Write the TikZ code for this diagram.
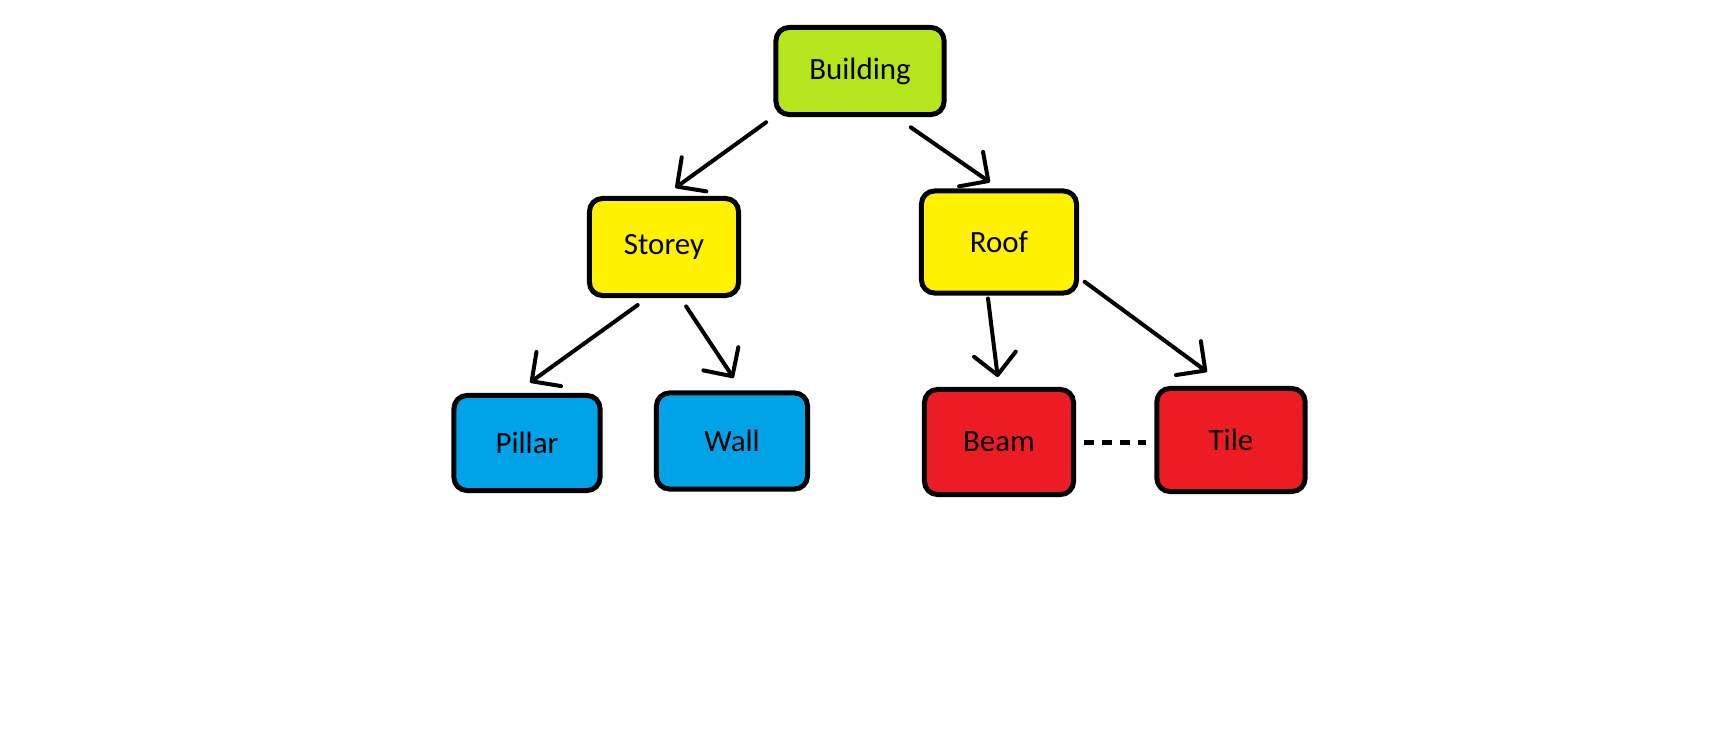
\documentclass[tikz,border=0pt]{standalone}
\usepackage{fontspec}
\setmainfont{Carlito}
\usetikzlibrary{arrows.meta,positioning}

\definecolor{paintlime}{RGB}{181,230,29}
\definecolor{paintyellow}{RGB}{255,242,0}
\definecolor{paintblue}{RGB}{0,162,232}
\definecolor{paintred}{RGB}{237,28,36}

\begin{document}
\begin{tikzpicture}[x=0.01cm,y=-0.01cm,->,>={Straight Barb[length=2.1mm,width=4.2mm,round]},
    line width=0.4mm,line cap=round,
    base node/.style={draw,rectangle,rounded corners=1.3mm,line width=0.5mm,inner sep=0pt,
      font=\fontsize{8.8}{10}\selectfont},
    build node/.style={base node,fill=paintlime},
    level node/.style={base node,fill=paintyellow},
    piece node/.style={base node,fill=paintblue},
    cover node/.style={base node,fill=paintred}]

\useasboundingbox (0,0) rectangle (1732,742);

\node[build node,minimum width=1.68cm,minimum height=0.87cm] (building) at (860,71)  {Building};
\node[level node,minimum width=1.49cm,minimum height=0.97cm] (storey)   at (664,247) {Storey};
\node[level node,minimum width=1.55cm,minimum height=1.02cm] (roof)     at (999,242) {Roof};
\node[piece node,minimum width=1.46cm,minimum height=0.95cm] (pillar)   at (527,443) {Pillar};
\node[piece node,minimum width=1.51cm,minimum height=0.96cm] (wall)     at (732,441) {Wall};
\node[cover node,minimum width=1.49cm,minimum height=1.05cm] (beam)     at (999,442) {Beam};
\node[cover node,minimum width=1.48cm,minimum height=1.03cm] (tile)     at (1231,440) {Tile};

\draw[shorten <=0.9mm,shorten >=1.4mm] (building.south west) -- (storey.north);
\draw[shorten <=1.8mm,shorten >=1.1mm] (building.-52) -- (roof.north);
\draw[shorten <=1.2mm,shorten >=1.8mm] (storey.-108) -- (pillar.103);
\draw[shorten <=1.0mm,shorten >=1.5mm] (storey.-72) -- (wall.79);
\draw[shorten <=0.3mm,shorten >=1.0mm] (roof.-102) -- (beam.north);
\draw[shorten <=0.7mm,shorten >=2.4mm] (roof.-24.6) -- (tile.95);
\draw[-,line cap=butt,line width=0.5mm,dash pattern=on 1mm off 0.8mm,
      shorten <=0.8mm,shorten >=0.8mm] (beam.east) -- (tile.west |- beam.east);
\end{tikzpicture}
\end{document}
